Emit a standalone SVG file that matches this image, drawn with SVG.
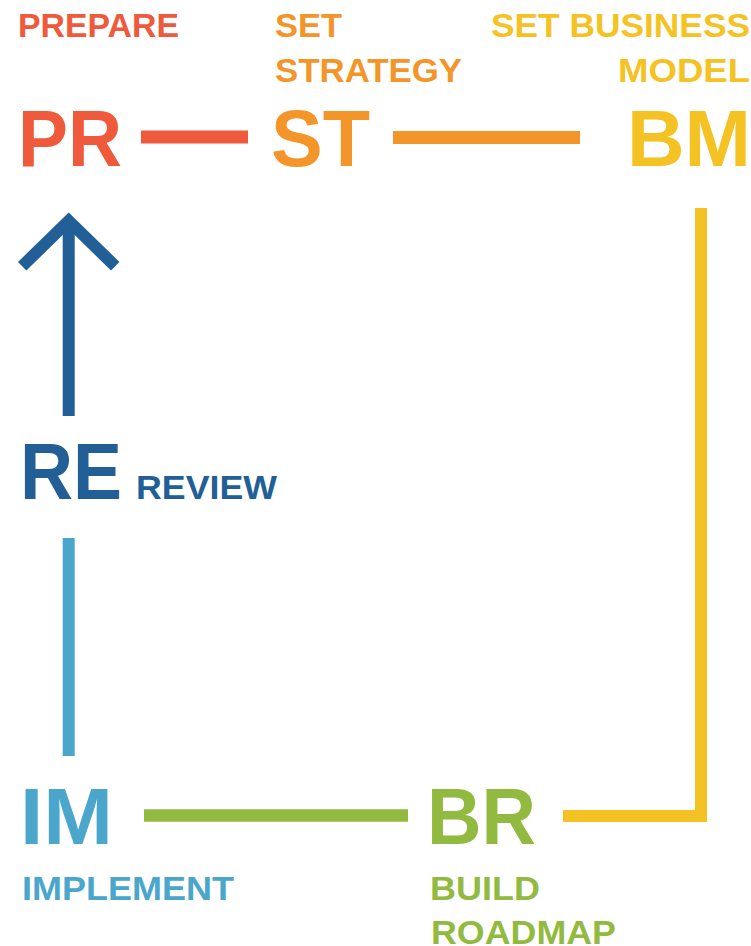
<svg xmlns="http://www.w3.org/2000/svg" width="751" height="946" viewBox="0 0 751 946">
  <style>
    text { font-family: "Liberation Sans", Arial, sans-serif; font-weight: 700; }
    .sm { font-size: 34px; }
    .big { font-size: 79px; }
    .line { fill: none; stroke-linecap: butt; stroke-linejoin: miter; }
    .red { fill: #EE5A3B; }
    .org { fill: #F4952A; }
    .yel { fill: #F4C223; }
    .blu { fill: #215F96; }
    .lbl { fill: #4BA6CC; }
    .grn { fill: #92BA40; }
  </style>
  <rect width="751" height="946" fill="#FFFFFF"/>
  <g id="connectors">
    <line class="line" x1="141" y1="137" x2="248" y2="137" stroke="#EE5A3B" stroke-width="13"/>
    <line class="line" x1="393" y1="137.5" x2="580" y2="137.5" stroke="#F4952A" stroke-width="13"/>
    <path class="line" d="M701 208 V816 H563" stroke="#F4C223" stroke-width="12"/>
    <line class="line" x1="144" y1="815.5" x2="408" y2="815.5" stroke="#92BA40" stroke-width="12.5"/>
    <line class="line" x1="68.7" y1="756" x2="68.7" y2="538" stroke="#4BA6CC" stroke-width="12"/>
    <g id="arrow-review-prepare">
      <line class="line" x1="68.7" y1="416" x2="68.7" y2="222" stroke="#215F96" stroke-width="12"/>
      <path class="line" d="M22.2 266.2 L68.7 220.8 L115.2 266.2" stroke="#215F96" stroke-width="12"/>
    </g>
  </g>
  <g id="node-prepare">
    <text class="sm red" x="18" y="37" textLength="161" lengthAdjust="spacingAndGlyphs">PREPARE</text>
    <text class="big red" x="18" y="166" textLength="104" lengthAdjust="spacingAndGlyphs">PR</text>
  </g>
  <g id="node-strategy">
    <text class="sm org" x="275" y="37" textLength="67" lengthAdjust="spacingAndGlyphs">SET</text>
    <text class="sm org" x="275" y="82" textLength="187" lengthAdjust="spacingAndGlyphs">STRATEGY</text>
    <text class="big org" x="271" y="166" textLength="99" lengthAdjust="spacingAndGlyphs">ST</text>
  </g>
  <g id="node-business-model">
    <text class="sm yel" x="491" y="37" textLength="259" lengthAdjust="spacingAndGlyphs">SET BUSINESS</text>
    <text class="sm yel" x="618" y="82" textLength="132" lengthAdjust="spacingAndGlyphs">MODEL</text>
    <text class="big yel" x="627" y="166" textLength="124" lengthAdjust="spacingAndGlyphs">BM</text>
  </g>
  <g id="node-review">
    <text class="big blu" x="20" y="499" textLength="102" lengthAdjust="spacingAndGlyphs">RE</text>
    <text class="sm blu" x="136" y="498.5" textLength="141" lengthAdjust="spacingAndGlyphs">REVIEW</text>
  </g>
  <g id="node-implement">
    <text class="big lbl" x="20" y="844" textLength="93" lengthAdjust="spacingAndGlyphs">IM</text>
    <text class="sm lbl" x="22" y="900" textLength="212" lengthAdjust="spacingAndGlyphs">IMPLEMENT</text>
  </g>
  <g id="node-roadmap">
    <text class="big grn" x="427" y="844" textLength="109" lengthAdjust="spacingAndGlyphs">BR</text>
    <text class="sm grn" x="430" y="900" textLength="110" lengthAdjust="spacingAndGlyphs">BUILD</text>
    <text class="sm grn" x="431" y="944" textLength="185" lengthAdjust="spacingAndGlyphs">ROADMAP</text>
  </g>
</svg>
